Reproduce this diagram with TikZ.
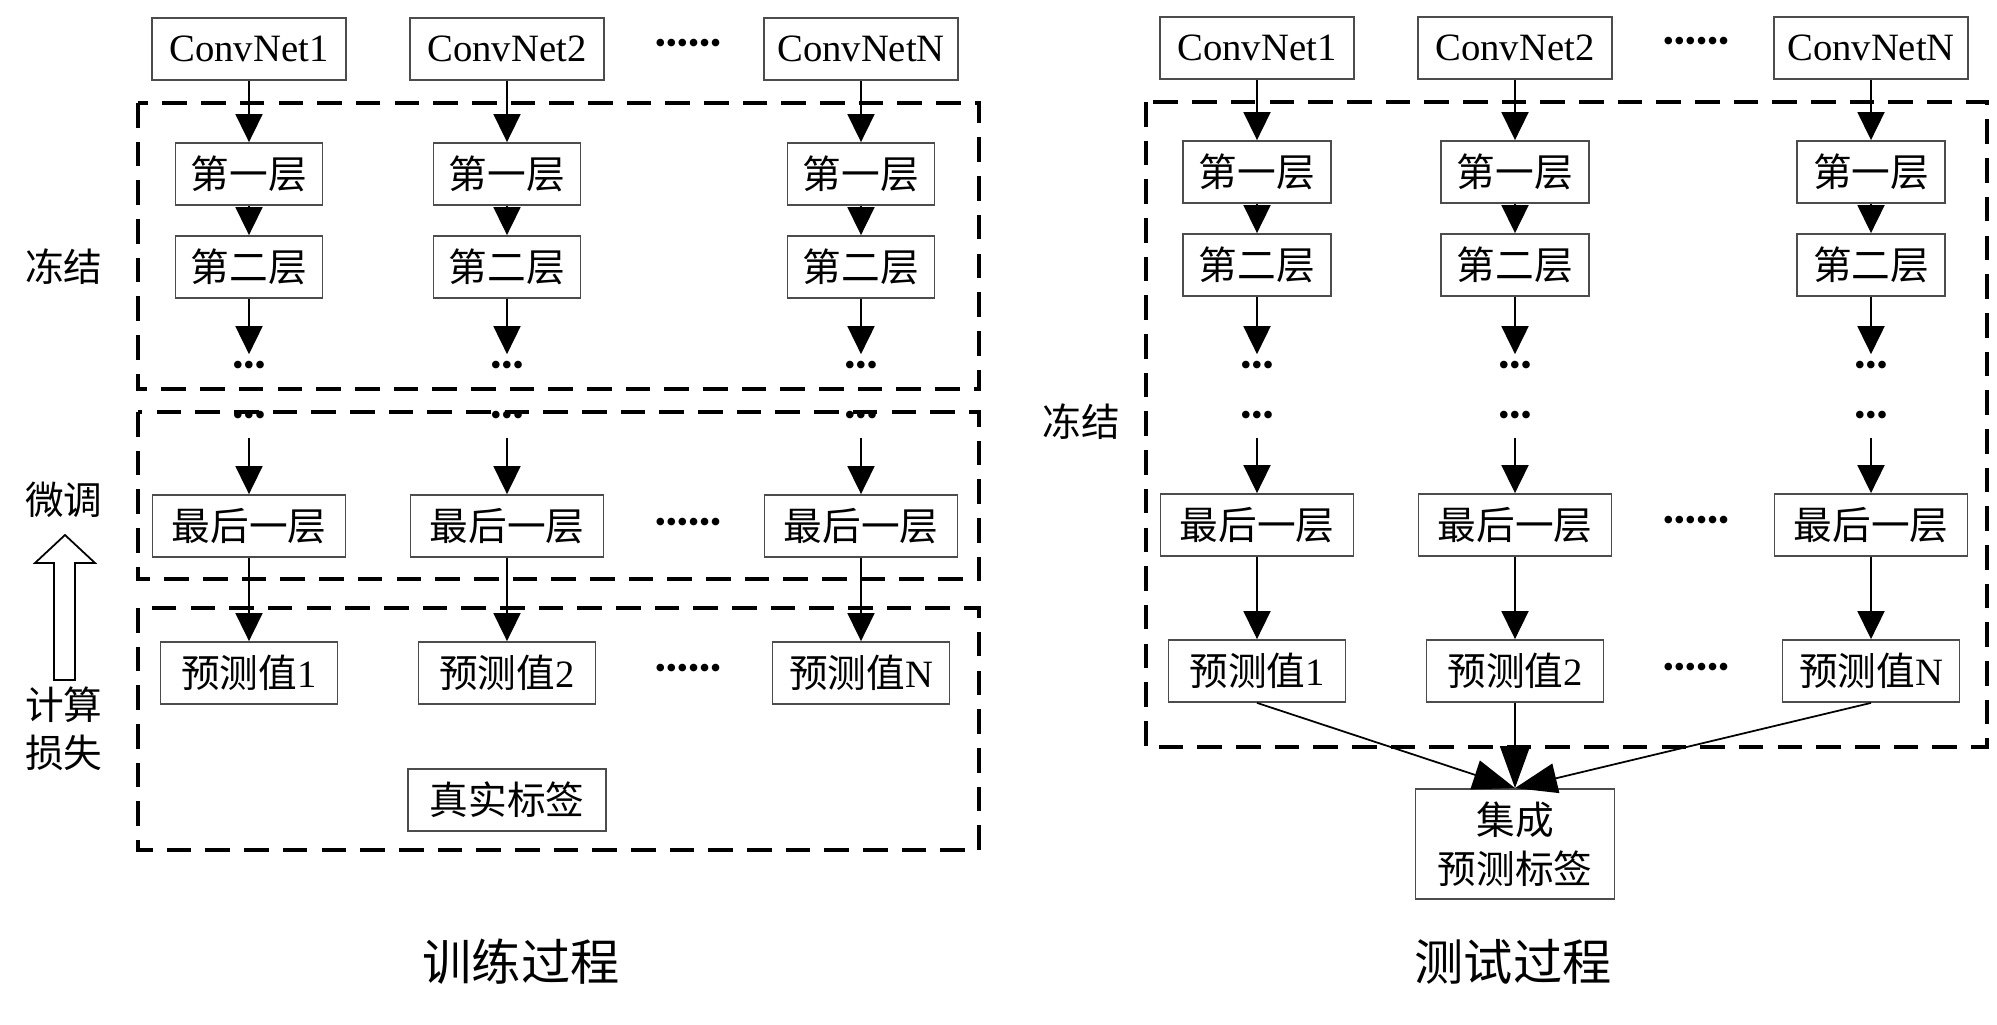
\documentclass[tikz,border=0pt]{standalone}
\usepackage{fontspec}
\setmainfont{Liberation Serif}
\newfontfamily\cjk{Noto Sans CJK SC}
\usetikzlibrary{arrows.meta,positioning}
\tikzset{
    plain-box/.style = {draw=black!70, line width=0.5pt, rectangle, inner sep=0pt, minimum height=0.62cm, font=\fontsize{11}{13}\selectfont},
    layer-box/.style = {plain-box, font=\fontsize{11}{13}\selectfont\cjk},
    dash-frame/.style = {draw=black, line width=1.4pt, dash pattern=on 7pt off 4pt},
    flow-arrow/.style = {draw=black, line width=0.5pt, -{Triangle[length=0.28cm, width=0.27cm]}},
    merge-arrow/.style = {draw=black, line width=0.5pt, -{Triangle[length=0.42cm, width=0.3cm]}},
    col-dots/.style = {inner sep=0pt, font=\fontsize{9}{9}\selectfont},
    side-label/.style = {font=\fontsize{11}{13}\selectfont\cjk},
    title-label/.style = {font=\fontsize{14}{16}\selectfont\cjk},
}
\newcommand{\dotsthree}{\textbullet\textbullet\textbullet}
\newcommand{\dotssix}{\textbullet\textbullet\textbullet\textbullet\textbullet\textbullet}

\begin{document}
\begin{tikzpicture}[x=0.01cm, y=-0.01cm]
\useasboundingbox (0,0) rectangle (1997,1025);

% training
\draw[dash-frame] (138,103) rectangle (979,389);
\draw[dash-frame] (138,412) rectangle (979,579);
\draw[dash-frame] (138,608) rectangle (979,850);
\foreach \x/\i in {249/1, 507/2, 861/N} {
    \node[plain-box, minimum width=1.94cm] (l-net-\i) at (\x,49) {ConvNet\i};
    \node[layer-box, minimum width=1.47cm] (l-first-\i) at (\x,174) {第一层};
    \node[layer-box, minimum width=1.47cm] (l-second-\i) at (\x,267) {第二层};
    \node[col-dots] (l-dots-\i) at (\x,368) {\dotsthree};
    \node[col-dots] (l-more-\i) at (\x,418) {\dotsthree};
    \node[layer-box, minimum width=1.93cm] (l-last-\i) at (\x,526) {最后一层};
    \node[plain-box, minimum width=1.77cm] (l-pred-\i) at (\x,673) {{\cjk 预测值}\i};
    \draw[flow-arrow] (l-net-\i) -- (l-first-\i);
    \draw[flow-arrow] (l-first-\i) -- (l-second-\i);
    \draw[flow-arrow, shorten >=0.06cm] (l-second-\i) -- (l-dots-\i);
    \draw[flow-arrow, shorten <=0.12cm] (l-more-\i) -- (l-last-\i);
    \draw[flow-arrow] (l-last-\i) -- (l-pred-\i);
}
\node[col-dots] (l-gap-net) at (688,46) {\dotssix};
\node[col-dots] (l-gap-last) at (688,525) {\dotssix};
\node[col-dots] (l-gap-pred) at (688,671) {\dotssix};
\node[layer-box, minimum width=1.98cm] (truth) at (507,800) {真实标签};

\node[side-label] (freeze-l) at (64,267) {冻结};
\node[side-label] (tune) at (64,500) {微调};
\node[side-label] (calc) at (64,705) {计算};
\node[side-label] (loss) at (64,753) {损失};
\draw[black, line width=0.5pt] (54,680) -- (54,563) -- (35,563) -- (65,535) -- (95,563) -- (75,563) -- (75,680) -- cycle;
\node[title-label] (train-title) at (521,962) {训练过程};

% testing
\draw[dash-frame] (1146,102) rectangle (1987,747);
\foreach \x/\i in {1257/1, 1515/2, 1871/N} {
    \node[plain-box, minimum width=1.94cm] (r-net-\i) at (\x,48) {ConvNet\i};
    \node[layer-box, minimum width=1.48cm] (r-first-\i) at (\x,172) {第一层};
    \node[layer-box, minimum width=1.48cm] (r-second-\i) at (\x,265) {第二层};
    \node[col-dots] (r-dots-\i) at (\x,368) {\dotsthree};
    \node[col-dots] (r-more-\i) at (\x,418) {\dotsthree};
    \node[layer-box, minimum width=1.93cm] (r-last-\i) at (\x,525) {最后一层};
    \node[plain-box, minimum width=1.77cm] (r-pred-\i) at (\x,671) {{\cjk 预测值}\i};
    \draw[flow-arrow] (r-net-\i) -- (r-first-\i);
    \draw[flow-arrow] (r-first-\i) -- (r-second-\i);
    \draw[flow-arrow, shorten >=0.06cm] (r-second-\i) -- (r-dots-\i);
    \draw[flow-arrow, shorten <=0.12cm] (r-more-\i) -- (r-last-\i);
    \draw[flow-arrow] (r-last-\i) -- (r-pred-\i);
}
\node[col-dots] (r-gap-net) at (1696,44) {\dotssix};
\node[col-dots] (r-gap-last) at (1696,523) {\dotssix};
\node[col-dots] (r-gap-pred) at (1696,670) {\dotssix};
\node[layer-box, minimum width=1.99cm, minimum height=1.1cm, align=center, font=\fontsize{11}{14}\selectfont\cjk] (ensemble) at (1515,844) {集成\\预测标签};
\draw[merge-arrow] (r-pred-1.south) -- (ensemble.north);
\draw[merge-arrow] (r-pred-2.south) -- (ensemble.north);
\draw[merge-arrow] (r-pred-N.south) -- (ensemble.north);

\node[side-label] (freeze-r) at (1081,422) {冻结};
\node[title-label] (test-title) at (1513,962) {测试过程};
\end{tikzpicture}
\end{document}
